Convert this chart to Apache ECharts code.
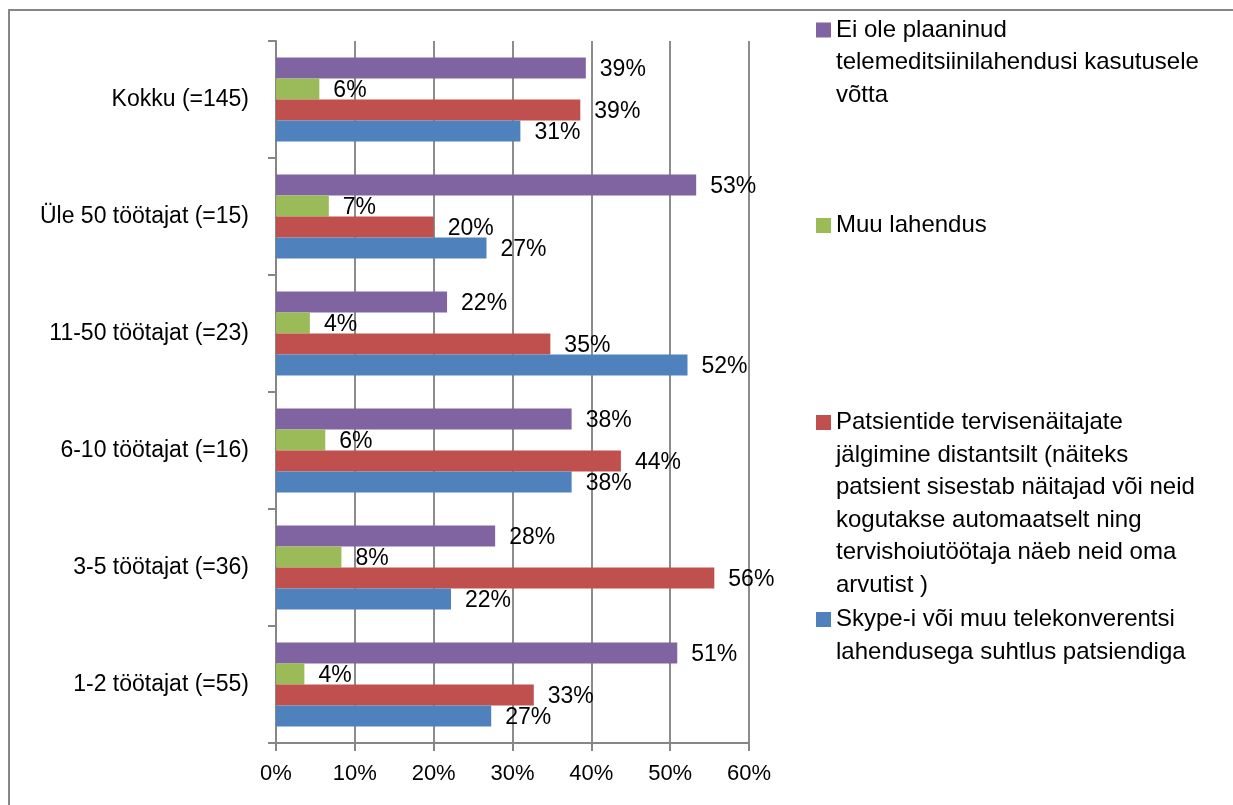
<!DOCTYPE html>
<html>
<head>
<meta charset="utf-8">
<script src="https://cdn.jsdelivr.net/npm/echarts@6/dist/echarts.min.js"></script>
<style>
html,body{margin:0;padding:0;background:#fff;}
#chart{width:1233px;height:805px;}
</style>
</head>
<body>
<div id="chart"></div>
<script>
// Categories (bottom to top as on the value axis)
const categories = [
  '1-2 töötajat (=55)',
  '3-5 töötajat (=36)',
  '6-10 töötajat (=16)',
  '11-50 töötajat (=23)',
  'Üle 50 töötajat (=15)',
  'Kokku (=145)'
];

// Series names
const seriesNames = [
  'Ei ole plaaninud telemeditsiinilahendusi kasutusele võtta',
  'Muu lahendus',
  'Patsientide tervisenäitajate jälgimine distantsilt (näiteks patsient sisestab näitajad või neid kogutakse automaatselt ning tervishoiutöötaja näeb neid oma arvutist )',
  'Skype-i või muu telekonverentsi lahendusega suhtlus patsiendiga'
];

// Legend wrapped text (as in reference)
const legendLines = [
  ['Ei ole plaaninud', 'telemeditsiinilahendusi kasutusele', 'võtta'],
  ['Muu lahendus'],
  ['Patsientide tervisenäitajate', 'jälgimine distantsilt (näiteks', 'patsient sisestab näitajad või neid', 'kogutakse automaatselt ning', 'tervishoiutöötaja näeb neid oma', 'arvutist )'],
  ['Skype-i või muu telekonverentsi', 'lahendusega suhtlus patsiendiga']
];

// Values in % (same order as categories)
const eiOlePlaaninud = [50.9, 27.8, 37.5, 21.7, 53.3, 39.3];
const muuLahendus   = [3.6, 8.3, 6.25, 4.3, 6.7, 5.5];
const patsientide   = [32.7, 55.6, 43.75, 34.8, 20.0, 38.6];
const skype         = [27.3, 22.2, 37.5, 52.2, 26.7, 31.0];

// X axis ticks
const xMin = 0, xMax = 60, xStep = 10;

const colors = ['#8064A2', '#9BBB59', '#C0504D', '#4F81BD'];
const seriesData = [eiOlePlaaninud, muuLahendus, patsientide, skype];

const FONT = "'Liberation Sans', Arial, sans-serif";
const LH = 32.5;
const iconCenters = [30, 225.5, 422.5, 619.5];

const legends = seriesNames.map((name, i) => {
  const n = legendLines[i].length;
  const H = (2 * n - 1) * LH;
  // blank lines before the text keep the first line level with the icon
  const pad = new Array(n - 1).fill(' ');
  return {
    data: [name],
    orient: 'vertical',
    left: 816,
    top: iconCenters[i] - Math.max(7.5, H / 2),
    padding: 0,
    itemWidth: 15,
    itemHeight: 15,
    itemGap: 0,
    icon: 'rect',
    selectedMode: false,
    formatter: () => pad.concat(legendLines[i]).join('\n'),
    textStyle: {
      fontFamily: FONT,
      fontSize: 24,
      color: '#000',
      lineHeight: LH
    }
  };
});

const chart = echarts.init(document.getElementById('chart'), null, {renderer: 'canvas'});
chart.setOption({
  animation: false,
  backgroundColor: '#fff',
  color: colors,
  textStyle: {fontFamily: FONT},
  graphic: [{
    type: 'rect',
    silent: true,
    shape: {x: 9, y: 10, width: 1400, height: 1000},
    style: {fill: 'none', stroke: '#868686', lineWidth: 2}
  }],
  legend: legends,
  grid: {left: 276, right: 484, top: 41, bottom: 62, containLabel: false},
  xAxis: {
    type: 'value',
    min: xMin, max: xMax, interval: xStep,
    axisLine: {show: true, lineStyle: {color: '#868686', width: 2}},
    axisTick: {show: true, length: 8, lineStyle: {color: '#868686', width: 2}},
    splitLine: {show: true, lineStyle: {color: '#8c8c8c', width: 2}},
    axisLabel: {formatter: '{value}%', fontSize: 22, color: '#000', margin: 20, fontFamily: FONT}
  },
  yAxis: {
    type: 'category',
    data: categories,
    axisLine: {show: true, lineStyle: {color: '#868686', width: 2}},
    axisTick: {show: true, length: 8, lineStyle: {color: '#868686', width: 2}},
    splitLine: {show: false},
    axisLabel: {fontSize: 23, color: '#000', margin: 27, fontFamily: FONT}
  },
  series: seriesNames.map((name, i) => ({
    name: name,
    type: 'bar',
    data: seriesData[i],
    barGap: '0%',
    barCategoryGap: '28%',
    itemStyle: {color: colors[i]},
    label: {
      show: true,
      position: 'right',
      distance: 14,
      offset: [0, 2],
      formatter: p => Math.round(p.value) + '%',
      fontSize: 23,
      color: '#000',
      fontFamily: FONT
    }
  }))
});
</script>
</body>
</html>
